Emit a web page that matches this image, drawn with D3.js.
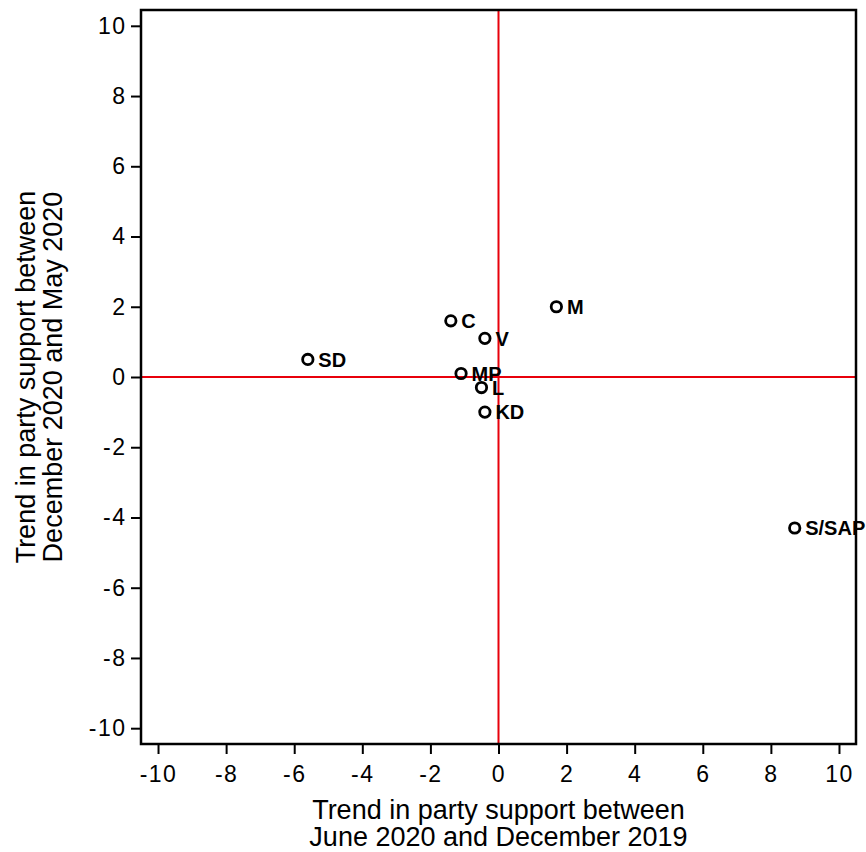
<!DOCTYPE html>
<html>
<head>
<meta charset="utf-8">
<script src="https://cdn.jsdelivr.net/npm/d3@7"></script>
<style>
  body { margin: 0; background: #fff; }
  text { font-family: "Liberation Sans", Arial, Helvetica, sans-serif; }
</style>
</head>
<body>
<div id="chart"></div>
<script>
// party trend data
var parties = ["SD", "C", "V", "MP", "L", "KD", "M", "S/SAP"];
var trendX = [-5.6, -1.4, -0.4, -1.1, -0.5, -0.4, 1.7, 8.7];   // Jun 2020 vs Dec 2019
var trendY = [0.5, 1.6, 1.1, 0.1, -0.3, -1.0, 2.0, -4.3];      // Dec 2020 vs May 2020
var tickValues = [-10, -8, -6, -4, -2, 0, 2, 4, 6, 8, 10];
var xTitle = ["Trend in party support between", "June 2020 and December 2019"];
var yTitle = ["Trend in party support between", "December 2020 and May 2020"];

var W = 866, H = 852;
var margin = {top: 10, right: 10, bottom: 108, left: 141};
var width = W - margin.left - margin.right;
var height = H - margin.top - margin.bottom;

var svg = d3.select("#chart").append("svg")
    .attr("width", W)
    .attr("height", H);

var g = svg.append("g")
    .attr("transform", "translate(" + margin.left + "," + margin.top + ")");

var x = d3.scaleLinear().domain([-10.5, 10.5]).range([0, width]);
var y = d3.scaleLinear().domain([-10.45, 10.45]).range([height, 0]);

// reference lines
g.append("line")
    .attr("x1", x(0)).attr("x2", x(0))
    .attr("y1", 0).attr("y2", height)
    .attr("stroke", "#e8000b").attr("stroke-width", 2);
g.append("line")
    .attr("x1", 0).attr("x2", width)
    .attr("y1", y(0)).attr("y2", y(0))
    .attr("stroke", "#e8000b").attr("stroke-width", 2);

// axes
var xAxis = g.append("g")
    .attr("transform", "translate(0," + height + ")")
    .call(d3.axisBottom(x).tickValues(tickValues).tickSize(10).tickPadding(12).tickSizeOuter(0));
var yAxis = g.append("g")
    .call(d3.axisLeft(y).tickValues(tickValues).tickSize(10).tickPadding(6).tickSizeOuter(0));

[xAxis, yAxis].forEach(function(a) {
    a.select(".domain").remove();
    a.selectAll(".tick line").attr("stroke", "#000").attr("stroke-width", 2);
    a.selectAll(".tick text")
        .attr("fill", "#000")
        .style("font-size", "23px")
        .style("letter-spacing", "1.5px")
        .text(function(d) { return String(d); });
});
// keep right-aligned y labels flush despite letter spacing
yAxis.selectAll(".tick text").attr("dx", "1.5px");

// frame
g.append("rect")
    .attr("x", 0).attr("y", 0)
    .attr("width", width).attr("height", height)
    .attr("fill", "none")
    .attr("stroke", "#000").attr("stroke-width", 2.5);

// points
var data = parties.map(function(p, i) { return {name: p, x: trendX[i], y: trendY[i]}; });

var pts = g.selectAll(".pt").data(data).enter().append("g")
    .attr("class", "pt")
    .attr("transform", function(d) { return "translate(" + x(d.x) + "," + y(d.y) + ")"; });

pts.append("circle")
    .attr("r", 5.2)
    .attr("fill", "none")
    .attr("stroke", "#000")
    .attr("stroke-width", 2.8);

pts.append("text")
    .attr("x", 10.5)
    .attr("dy", "0.36em")
    .style("font-size", "20px")
    .style("font-weight", "bold")
    .attr("fill", "#000")
    .text(function(d) { return d.name; });

// axis titles
svg.append("text")
    .attr("text-anchor", "middle")
    .attr("transform", "translate(" + (margin.left + x(0)) + "," + 819 + ")")
    .style("font-size", "27px")
    .selectAll("tspan").data(xTitle).enter().append("tspan")
    .attr("x", 0)
    .attr("dy", function(d, i) { return i === 0 ? 0 : 27; })
    .text(function(d) { return d; });

svg.append("text")
    .attr("text-anchor", "middle")
    .attr("transform", "translate(" + 35 + "," + (margin.top + y(0)) + ") rotate(-90)")
    .style("font-size", "27px")
    .selectAll("tspan").data(yTitle).enter().append("tspan")
    .attr("x", 0)
    .attr("dy", function(d, i) { return i === 0 ? 0 : 27; })
    .text(function(d) { return d; });
</script>
</body>
</html>
